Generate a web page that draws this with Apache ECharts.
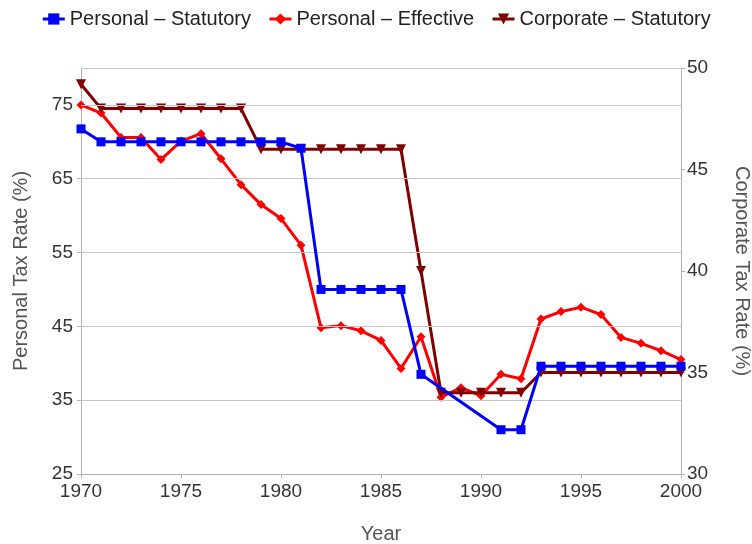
<!DOCTYPE html>
<html>
<head>
<meta charset="utf-8">
<script src="https://cdn.jsdelivr.net/npm/echarts@6/dist/echarts.min.js"></script>
<style>html,body{margin:0;padding:0;background:#fff}#c{width:752px;height:544px}</style>
</head>
<body>
<div id="c"></div>
<script>
const years = [1970,1971,1972,1973,1974,1975,1976,1977,1978,1979,1980,1981,1982,1983,1984,1985,1986,1987,1988,1989,1990,1991,1992,1993,1994,1995,1996,1997,1998,1999,2000];
const personalStatutory = [71.75,70,70,70,70,70,70,70,70,70,70,69.13,50,50,50,50,50,38.5,null,null,null,31,31,39.6,39.6,39.6,39.6,39.6,39.6,39.6,39.6];
const personalEffective = [75.0,73.9,70.6,70.6,67.6,70.1,71.1,67.7,64.2,61.5,59.6,56.0,44.8,45.1,44.4,43.1,39.3,43.6,35.4,36.7,35.6,38.5,37.9,46.0,47.0,47.6,46.6,43.5,42.7,41.7,40.5];
const corporateStatutory = [49.2,48,48,48,48,48,48,48,48,46,46,46,46,46,46,46,46,40,34,34,34,34,34,35,35,35,35,35,35,35,35];
const leftTicks = [25,35,45,55,65,75];
const seriesNames = ['Personal – Statutory','Personal – Effective','Corporate – Statutory'];

const pair = arr => years.map((y,i) => [y, arr[i]]);
const FONT = '"Liberation Sans", Arial, sans-serif';
const chart = echarts.init(document.getElementById('c'), null, {renderer:'canvas'});
chart.setOption({
  animation: false,
  textStyle: {fontFamily: FONT},
  legend: {
    data: seriesNames,
    top: 4, left: 'center',
    itemWidth: 22, itemHeight: 14, itemGap: 17,
    lineStyle: {width: 3},
    textStyle: {fontSize: 20, color: '#222', fontFamily: FONT}
  },
  grid: {left: 81, right: 71, top: 68, bottom: 70, show: false, containLabel: false, outerBoundsMode: 'none'},
  xAxis: {
    type: 'value', min: 1970, max: 2000, interval: 5,
    name: 'Year', nameLocation: 'middle', nameGap: 50,
    nameTextStyle: {fontSize: 20, color: '#555', fontFamily: FONT},
    axisLine: {onZero: false, lineStyle: {color: '#b3b3b3', width: 1}},
    axisTick: {show: true, length: 4, lineStyle: {color: '#b3b3b3'}},
    axisLabel: {fontSize: 19, color: '#333', margin: 8, formatter: v => String(v)},
    splitLine: {show: false}
  },
  yAxis: [{
    type: 'value', min: 25, max: 80, interval: 5, position: 'left',
    name: 'Personal Tax Rate (%)', nameLocation: 'middle', nameGap: 50,
    nameTextStyle: {fontSize: 20, color: '#555', fontFamily: FONT},
    axisLine: {show: true, lineStyle: {color: '#b3b3b3', width: 1}},
    axisTick: {show: true, length: 4, customValues: leftTicks, lineStyle: {color: '#b3b3b3'}},
    axisLabel: {fontSize: 19, color: '#333', margin: 8, customValues: leftTicks},
    splitLine: {show: false}
  },{
    type: 'value', min: 30, max: 50, interval: 5, position: 'right',
    name: 'Corporate Tax Rate (%)', nameLocation: 'middle', nameGap: 51, nameRotate: -90,
    nameTextStyle: {fontSize: 20, color: '#555', fontFamily: FONT},
    axisLine: {show: true, lineStyle: {color: '#b3b3b3', width: 1}},
    axisTick: {show: true, length: 4, lineStyle: {color: '#b3b3b3'}},
    axisLabel: {fontSize: 19, color: '#333', margin: 6},
    splitLine: {show: false}
  }],
  series: [
    {
      name: 'grid', type: 'line', data: [], yAxisIndex: 0, silent: true, z: 1,
      markLine: {
        silent: true, symbol: ['none','none'], label: {show: false},
        lineStyle: {color: '#c6c6c6', width: 1, type: 'solid'},
        data: [35,45,55,65,75,80].map(v => ({yAxis: v}))
      }
    },
    {
      name: seriesNames[1], type: 'line', yAxisIndex: 0, z: 3,
      data: pair(personalEffective),
      symbol: 'diamond', symbolSize: 9,
      lineStyle: {color: '#ff0000', width: 3},
      itemStyle: {color: '#ff0000'}
    },
    {
      name: seriesNames[2], type: 'line', yAxisIndex: 1, z: 4,
      data: pair(corporateStatutory),
      symbol: 'triangle', symbolRotate: 180, symbolSize: 10,
      lineStyle: {color: '#800000', width: 3},
      itemStyle: {color: '#800000'}
    },
    {
      name: seriesNames[0], type: 'line', yAxisIndex: 0, z: 5,
      data: pair(personalStatutory), connectNulls: true,
      symbol: 'rect', symbolSize: 9,
      lineStyle: {color: '#0000ff', width: 3},
      itemStyle: {color: '#0000ff'}
    }
  ]
});
</script>
</body>
</html>
